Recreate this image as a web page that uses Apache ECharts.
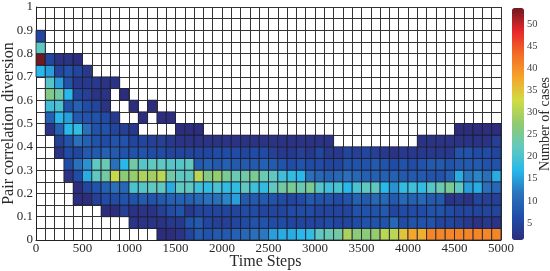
<!DOCTYPE html>
<html><head><meta charset="utf-8">
<style>html,body{margin:0;padding:0;background:#fff}#c{width:550px;height:271px}</style>
<script src="https://cdn.jsdelivr.net/npm/echarts@6/dist/echarts.min.js"></script>
</head><body><div id="c"></div>
<script>
const colStep = 100, rowStep = 0.05;
// counts per cell, one list per diversion band, bottom band first; 0 = empty
const band00 = [0,0,0,0,0,0,0,0,0,0,0,0,0,1,1,2,5,8,7,8,8,9,10,11,12,15,16,16,17,18,22,23,24,30,27,27,28,31,31,35,38,37,41,41,41,41,41,41,41,41];
const band01 = [0,0,0,0,0,0,0,0,0,0,2,2,2,2,3,3,7,8,5,4,4,5,6,7,7,6,6,5,5,5,5,6,5,5,6,7,7,7,10,6,7,7,7,5,5,4,3,2,3,2];
const band02 = [0,0,0,0,0,0,0,1,1,4,2,2,2,4,6,7,3,5,5,5,5,5,6,6,5,5,5,6,6,6,5,5,5,5,7,7,7,8,5,6,6,6,7,7,6,5,5,5,5,5];
const band03 = [0,0,0,0,1,1,4,6,6,7,7,8,7,8,9,9,9,10,11,11,13,15,8,8,8,7,6,5,6,8,7,7,6,7,9,8,10,10,8,10,9,10,8,8,2,3,2,5,4,4];
const band04 = [0,0,0,0,1,5,7,9,11,10,20,21,22,22,16,22,22,19,18,20,18,18,22,19,18,22,24,25,23,25,21,19,20,17,20,22,22,17,14,18,19,18,21,23,25,22,15,16,11,10];
const band05 = [0,0,0,2,6,16,22,24,32,27,28,30,29,31,24,22,22,31,26,28,25,23,24,25,23,22,19,18,17,11,10,9,10,11,10,9,9,9,9,8,8,8,7,7,9,16,12,13,11,16];
const band06 = [0,0,0,6,11,14,22,23,11,17,24,21,22,22,21,21,22,8,9,8,9,8,8,8,9,8,7,6,7,6,6,5,5,7,7,7,8,7,6,7,6,7,8,8,7,8,8,8,7,7];
const band07 = [0,0,2,6,5,8,8,9,8,7,7,7,6,6,5,5,5,5,5,6,6,6,5,6,6,4,3,3,4,3,5,3,3,5,4,5,4,3,2,3,3,3,3,3,3,7,7,6,6,5];
const band08 = [0,0,4,7,11,9,7,6,7,7,5,5,4,4,3,2,2,2,2,2,2,2,2,2,2,2,2,2,2,2,2,2,0,0,0,0,0,0,0,0,0,2,2,2,2,2,2,2,2,4];
const band09 = [0,2,9,17,18,11,7,7,5,4,3,0,0,0,0,1,1,1,0,0,0,0,0,0,0,0,0,0,0,0,0,0,0,0,0,0,0,0,0,0,0,0,0,0,0,1,1,1,1,1];
const band10 = [0,9,17,15,8,7,7,6,3,0,0,1,0,1,1,0,0,0,0,0,0,0,0,0,0,0,0,0,0,0,0,0,0,0,0,0,0,0,0,0,0,0,0,0,0,0,0,0,0,0];
const band11 = [0,19,20,7,9,6,5,2,0,0,1,0,1,0,0,0,0,0,0,0,0,0,0,0,0,0,0,0,0,0,0,0,0,0,0,0,0,0,0,0,0,0,0,0,0,0,0,0,0,0];
const band12 = [0,26,24,17,5,4,2,2,0,1,0,0,0,0,0,0,0,0,0,0,0,0,0,0,0,0,0,0,0,0,0,0,0,0,0,0,0,0,0,0,0,0,0,0,0,0,0,0,0,0];
const band13 = [0,21,15,7,3,3,3,2,2,0,0,0,0,0,0,0,0,0,0,0,0,0,0,0,0,0,0,0,0,0,0,0,0,0,0,0,0,0,0,0,0,0,0,0,0,0,0,0,0,0];
const band14 = [17,15,5,7,5,3,0,0,0,0,0,0,0,0,0,0,0,0,0,0,0,0,0,0,0,0,0,0,0,0,0,0,0,0,0,0,0,0,0,0,0,0,0,0,0,0,0,0,0,0];
const band15 = [54,5,2,2,1,0,0,0,0,0,0,0,0,0,0,0,0,0,0,0,0,0,0,0,0,0,0,0,0,0,0,0,0,0,0,0,0,0,0,0,0,0,0,0,0,0,0,0,0,0];
const band16 = [22,0,0,0,0,0,0,0,0,0,0,0,0,0,0,0,0,0,0,0,0,0,0,0,0,0,0,0,0,0,0,0,0,0,0,0,0,0,0,0,0,0,0,0,0,0,0,0,0,0];
const band17 = [5,0,0,0,0,0,0,0,0,0,0,0,0,0,0,0,0,0,0,0,0,0,0,0,0,0,0,0,0,0,0,0,0,0,0,0,0,0,0,0,0,0,0,0,0,0,0,0,0,0];
const bands = [band00,band01,band02,band03,band04,band05,band06,band07,band08,band09,band10,band11,band12,band13,band14,band15,band16,band17];
const colorTicks = [5,10,15,20,25,30,35,40,45,50];
const colorStops = ['#2c2d7c','#1f4ea8','#2b73bc','#27b8ea','#63c9bd','#8fca70','#cfdc45','#f6a52a','#f26d25','#e8262a','#6f1a1e'];

const cells = [];
bands.forEach((row, r) => row.forEach((v, c) => { if (v > 0) cells.push([c * colStep, r * rowStep, v]); }));

const font = 'Liberation Serif', ink = '#2a2a2a';
const chart = echarts.init(document.getElementById('c'), null, {renderer:'canvas'});
chart.setOption({
  animation:false,
  backgroundColor:'#fff',
  grid:[
    {left:36, right:49, top:7, bottom:31, outerBoundsMode:'none'},
    {left:512, right:26, top:8, bottom:31, outerBoundsMode:'none'}
  ],
  xAxis:[
    {type:'value', gridIndex:0, min:0, max:5000, interval:100,
     axisLine:{onZero:false, lineStyle:{color:'#222'}}, axisTick:{show:false},
     splitLine:{show:true, lineStyle:{color:'#333', width:1}},
     axisLabel:{color:ink, fontFamily:font, fontSize:13, margin:2, hideOverlap:false,
       formatter:v => v % 500 === 0 ? String(v) : ''},
     name:'Time Steps', nameLocation:'middle', nameGap:14, nameMoveOverlap:false,
     nameTextStyle:{color:ink, fontFamily:font, fontSize:16, padding:[0,6,0,0]}},
    {type:'value', gridIndex:1, min:0, max:1, show:false}
  ],
  yAxis:[
    {type:'value', gridIndex:0, min:0, max:1, interval:0.05,
     axisLine:{onZero:false, lineStyle:{color:'#222'}}, axisTick:{show:false},
     splitLine:{show:true, lineStyle:{color:'#333', width:1}},
     axisLabel:{color:ink, fontFamily:font, fontSize:13, margin:3, hideOverlap:false,
       formatter:v => { const n = Math.round(v * 100); return n % 10 === 0 ? String(n / 100) : ''; }},
     name:'Pair correlation diversion', nameLocation:'middle', nameGap:19, nameMoveOverlap:false,
     nameTextStyle:{color:ink, fontFamily:font, fontSize:16}},
    {type:'value', gridIndex:1, min:1.15, max:53.6, position:'right',
     axisLine:{show:false}, splitLine:{show:false},
     axisTick:{show:true, length:3, lineStyle:{color:'#444'}, customValues:colorTicks},
     axisLabel:{color:'#444', fontFamily:font, fontSize:10.5, margin:3, customValues:colorTicks},
     name:'Number of cases', nameLocation:'middle', nameGap:14, nameRotate:90, nameMoveOverlap:false,
     nameTextStyle:{color:ink, fontFamily:font, fontSize:14}}
  ],
  visualMap:{
    type:'continuous', min:1, max:54, dimension:2, seriesIndex:0,
    left:512, top:8, itemWidth:12, itemHeight:232, text:['',''], borderRadius:0,
    calculable:false, realtime:false, hoverLink:false, padding:0, showLabel:false,
    inRange:{color:colorStops}
  },
  series:[{
    type:'custom', coordinateSystem:'cartesian2d', xAxisIndex:0, yAxisIndex:0, silent:true,
    encode:{x:0, y:1},
    data:cells,
    renderItem:(params, api) => {
      const p = api.coord([api.value(0), api.value(1)]);
      const s = api.size([colStep, rowStep]);
      return {type:'rect', shape:{x:p[0], y:p[1]-s[1], width:s[0], height:s[1]},
        style:{fill:api.visual('color'), stroke:'rgba(30,30,50,0.8)', lineWidth:1}};
    }
  }]
});
</script></body></html>
